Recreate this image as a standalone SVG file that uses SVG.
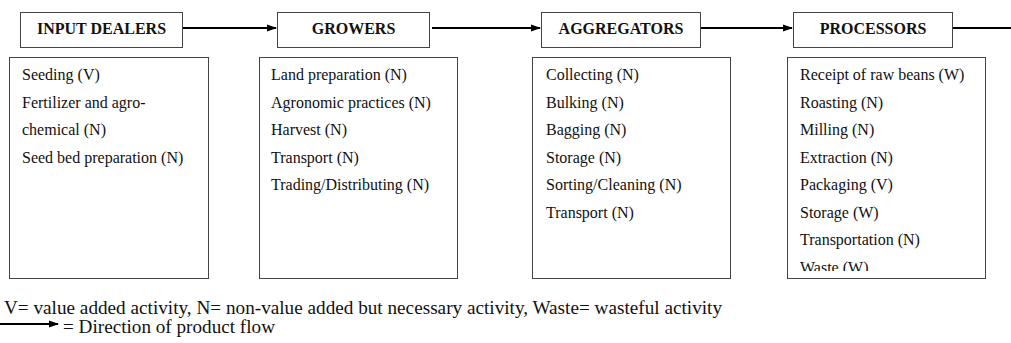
<svg xmlns="http://www.w3.org/2000/svg" width="1011" height="343" viewBox="0 0 1011 343">
<style>
.hdr{fill:#fff;stroke:#444;stroke-width:1}
.box{fill:#fff;stroke:#444;stroke-width:1}
.ht{font-family:"Liberation Serif",serif;font-size:16px;font-weight:bold;fill:#111;text-anchor:middle}
.t{font-family:"Liberation Serif",serif;font-size:16px;fill:#111}
.lg{font-family:"Liberation Serif",serif;font-size:18px;fill:#111}
.flow{stroke:#000;stroke-width:2;fill:none}
</style>
<defs>
<marker id="ah" markerWidth="10" markerHeight="8" refX="9" refY="4" orient="auto" markerUnits="userSpaceOnUse">
<path d="M0,0.5 L10,4 L0,7.5 Z" fill="#000"/>
</marker>
<clipPath id="c4"><rect x="787" y="57" width="199" height="214"/></clipPath>
</defs>
<g id="connectors">
<line class="flow" x1="183" y1="28" x2="276" y2="28" marker-end="url(#ah)"/>
<line class="flow" x1="432" y1="28" x2="540" y2="28" marker-end="url(#ah)"/>
<line class="flow" x1="700" y1="28" x2="792" y2="28" marker-end="url(#ah)"/>
<line class="flow" x1="952" y1="28" x2="1011" y2="28"/>
</g>
<g id="input-dealers">
<rect class="hdr" x="20.5" y="12.5" width="162" height="35"/>
<text class="ht" x="101.5" y="33.5">INPUT DEALERS</text>
</g>
<g id="growers">
<rect class="hdr" x="277.5" y="12.5" width="152" height="35"/>
<text class="ht" x="353.5" y="33.5">GROWERS</text>
</g>
<g id="aggregators">
<rect class="hdr" x="541.5" y="12.5" width="159" height="35"/>
<text class="ht" x="621" y="33.5">AGGREGATORS</text>
</g>
<g id="processors">
<rect class="hdr" x="793.5" y="12.5" width="159" height="35"/>
<text class="ht" x="873" y="33.5">PROCESSORS</text>
</g>
<g id="input-dealers-activities">
<rect class="box" x="9.5" y="57.5" width="199" height="221"/>
<text class="t" x="22" y="80">Seeding (V)</text>
<text class="t" x="22" y="107.5">Fertilizer and agro-</text>
<text class="t" x="22" y="135">chemical (N)</text>
<text class="t" x="22" y="162.5">Seed bed preparation (N)</text>
</g>
<g id="growers-activities">
<rect class="box" x="259.5" y="57.5" width="198" height="221"/>
<text class="t" x="271" y="80">Land preparation (N)</text>
<text class="t" x="271" y="107.5">Agronomic practices (N)</text>
<text class="t" x="271" y="135">Harvest (N)</text>
<text class="t" x="271" y="162.5">Transport (N)</text>
<text class="t" x="271" y="190">Trading/Distributing (N)</text>
</g>
<g id="aggregators-activities">
<rect class="box" x="532.5" y="57.5" width="198" height="221"/>
<text class="t" x="546" y="80">Collecting (N)</text>
<text class="t" x="546" y="107.5">Bulking (N)</text>
<text class="t" x="546" y="135">Bagging (N)</text>
<text class="t" x="546" y="162.5">Storage (N)</text>
<text class="t" x="546" y="190">Sorting/Cleaning (N)</text>
<text class="t" x="546" y="217.5">Transport (N)</text>
</g>
<g id="processors-activities">
<rect class="box" x="787.5" y="57.5" width="198" height="221"/>
<g clip-path="url(#c4)">
<text class="t" x="800" y="80">Receipt of raw beans (W)</text>
<text class="t" x="800" y="107.5">Roasting (N)</text>
<text class="t" x="800" y="135">Milling (N)</text>
<text class="t" x="800" y="162.5">Extraction (N)</text>
<text class="t" x="800" y="190">Packaging (V)</text>
<text class="t" x="800" y="217.5">Storage (W)</text>
<text class="t" x="800" y="245">Transportation (N)</text>
<text class="t" x="800" y="272.5">Waste (W)</text>
</g>
</g>
<g id="legend">
<text class="lg" x="4" y="314" textLength="718" lengthAdjust="spacingAndGlyphs">V= value added activity, N= non-value added but necessary activity, Waste= wasteful activity</text>
<line class="flow" x1="0" y1="324" x2="58" y2="324" marker-end="url(#ah)"/>
<text class="lg" x="63" y="333" textLength="212" lengthAdjust="spacingAndGlyphs">= Direction of product flow</text>
</g>
</svg>
